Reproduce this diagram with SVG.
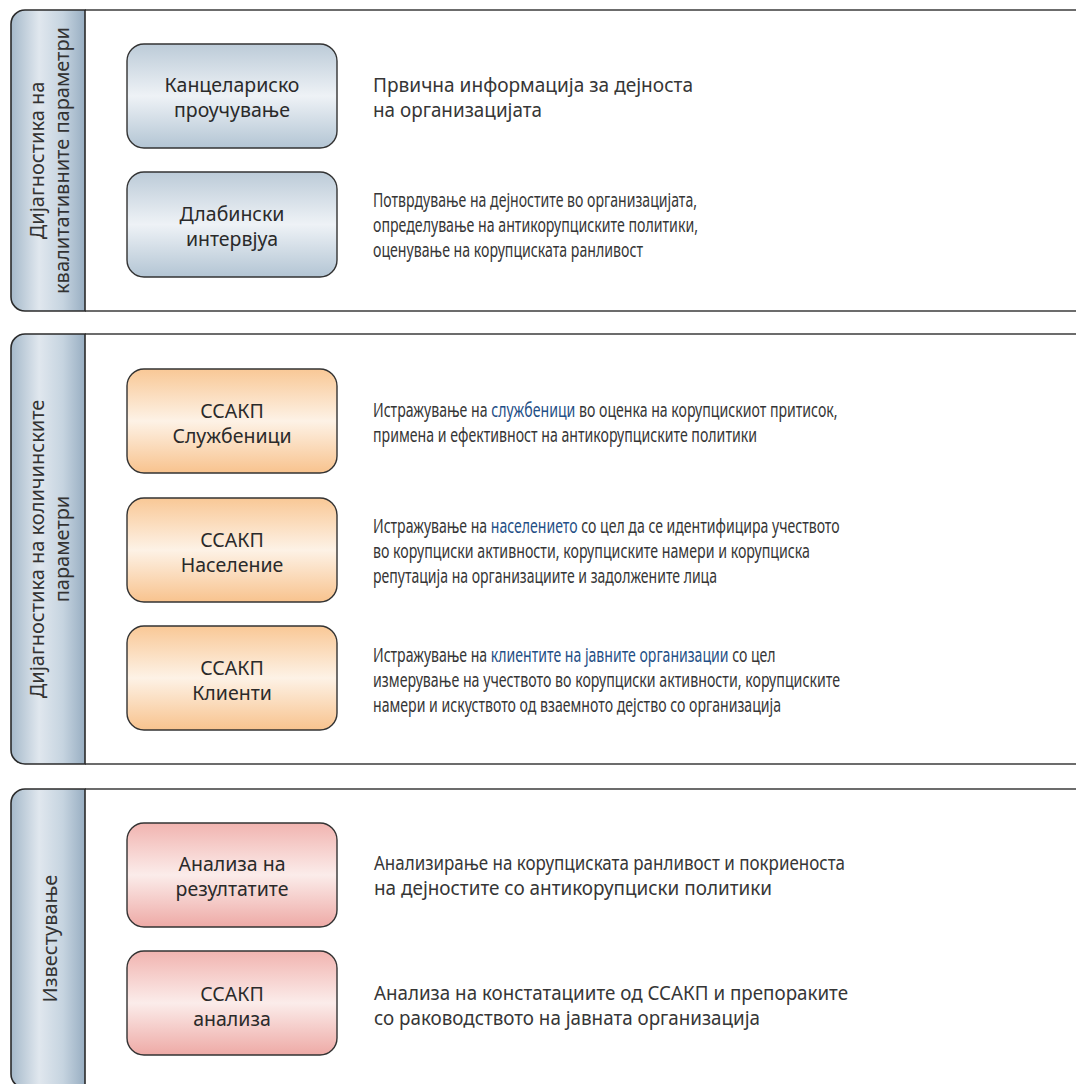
<svg xmlns="http://www.w3.org/2000/svg" width="1076" height="1084" viewBox="0 0 1076 1084">
<style>
  text { font-family: "Noto Sans", "Open Sans", "DejaVu Sans", sans-serif; fill: #363636; }
  .tabtxt { font-size: 20px; text-anchor: middle; fill: #333333; }
  .boxtxt { font-size: 19.5px; text-anchor: middle; fill: #2a2a2a; }
  .desc { font-size: 20px; }
  .hl { fill: #1f4f86; }
  .tab { fill: url(#gTab); stroke: #2b2b2b; stroke-width: 1.6; }
  .panel { fill: #ffffff; stroke: none; }
  .pline { fill: none; stroke: #3d3d3d; stroke-width: 1.6; }
  .box { stroke: #333333; stroke-width: 1.4; }
  .blue { fill: url(#gBlue); }
  .orange { fill: url(#gOrange); }
  .red { fill: url(#gRed); }
</style>
<defs>
  <linearGradient id="gTab" x1="0" y1="0" x2="1" y2="0">
    <stop offset="0" stop-color="#a5b9ca"/>
    <stop offset="0.38" stop-color="#e0e7ee"/>
    <stop offset="0.7" stop-color="#c6d4e0"/>
    <stop offset="1" stop-color="#98aec2"/>
  </linearGradient>
  <linearGradient id="gBlue" x1="0" y1="0" x2="0" y2="1">
    <stop offset="0" stop-color="#bccbd8"/>
    <stop offset="0.5" stop-color="#eef2f6"/>
    <stop offset="1" stop-color="#b3c5d4"/>
  </linearGradient>
  <linearGradient id="gOrange" x1="0" y1="0" x2="0" y2="1">
    <stop offset="0" stop-color="#f9c896"/>
    <stop offset="0.5" stop-color="#fdf2e6"/>
    <stop offset="1" stop-color="#f8c38e"/>
  </linearGradient>
  <linearGradient id="gRed" x1="0" y1="0" x2="0" y2="1">
    <stop offset="0" stop-color="#f1b4b0"/>
    <stop offset="0.5" stop-color="#fbecea"/>
    <stop offset="1" stop-color="#eeaaa6"/>
  </linearGradient>
</defs>
<rect x="0" y="0" width="1076" height="1084" fill="#ffffff"/>

<!-- Section 1 -->
<g id="section1">
  <rect class="panel" x="85" y="10" width="1000" height="301"/>
  <path class="pline" d="M1080,10 H85 M85,311 H1080"/>
  <path class="tab" d="M85,10 H25 A14,14 0 0 0 11,24 V297 A14,14 0 0 0 25,311 H85 Z"/>
  <text class="tabtxt" transform="translate(44,160.5) rotate(-90)"><tspan x="0" y="0">Дијагностика на</tspan><tspan x="0" y="25">квалитативните параметри</tspan></text>
</g>
<g id="node-kancelarisko">
  <rect class="box blue" x="127" y="44" width="210" height="104" rx="17"/>
  <text class="boxtxt"><tspan x="232" y="92">Канцелариско</tspan><tspan x="232" y="117">проучување</tspan></text>
  <text class="desc" x="373" y="92" textLength="320" lengthAdjust="spacingAndGlyphs">Првична информација за дејноста</text>
  <text class="desc" x="373" y="117" textLength="169" lengthAdjust="spacingAndGlyphs">на организацијата</text>
</g>
<g id="node-dlabinski">
  <rect class="box blue" x="127" y="172" width="210" height="105" rx="17"/>
  <text class="boxtxt"><tspan x="232" y="221">Длабински</tspan><tspan x="232" y="246">интервјуа</tspan></text>
  <text class="desc" x="373" y="207" textLength="324" lengthAdjust="spacingAndGlyphs">Потврдување на дејностите во организацијата,</text>
  <text class="desc" x="373" y="232" textLength="325" lengthAdjust="spacingAndGlyphs">определување на антикорупциските политики,</text>
  <text class="desc" x="373" y="257" textLength="270" lengthAdjust="spacingAndGlyphs">оценување на корупциската ранливост</text>
</g>

<!-- Section 2 -->
<g id="section2">
  <rect class="panel" x="85" y="334" width="1000" height="430"/>
  <path class="pline" d="M1080,334 H85 M85,764 H1080"/>
  <path class="tab" d="M85,334 H25 A14,14 0 0 0 11,348 V750 A14,14 0 0 0 25,764 H85 Z"/>
  <text class="tabtxt" transform="translate(44,549) rotate(-90)"><tspan x="0" y="0">Дијагностика на количинските</tspan><tspan x="0" y="25">параметри</tspan></text>
</g>
<g id="node-sluzbenici">
  <rect class="box orange" x="127" y="369" width="210" height="104" rx="17"/>
  <text class="boxtxt"><tspan x="232" y="418">ССАКП</tspan><tspan x="232" y="443">Службеници</tspan></text>
  <text class="desc" transform="translate(373,417) scale(0.706,1)">Истражување на <tspan class="hl">службеници</tspan> во оценка на корупцискиот притисок,</text>
  <text class="desc" x="373" y="442" textLength="384" lengthAdjust="spacingAndGlyphs">примена и ефективност на антикорупциските политики</text>
</g>
<g id="node-naselenie">
  <rect class="box orange" x="127" y="498" width="210" height="104" rx="17"/>
  <text class="boxtxt"><tspan x="232" y="547">ССАКП</tspan><tspan x="232" y="572">Население</tspan></text>
  <text class="desc" transform="translate(373,533) scale(0.704,1)">Истражување на <tspan class="hl">населението</tspan> со цел да се идентифицира учеството</text>
  <text class="desc" x="373" y="558" textLength="437" lengthAdjust="spacingAndGlyphs">во корупциски активности, корупциските намери и корупциска</text>
  <text class="desc" x="373" y="583" textLength="344" lengthAdjust="spacingAndGlyphs">репутација на организациите и задолжените лица</text>
</g>
<g id="node-klienti">
  <rect class="box orange" x="127" y="626" width="210" height="104" rx="17"/>
  <text class="boxtxt"><tspan x="232" y="675">ССАКП</tspan><tspan x="232" y="700">Клиенти</tspan></text>
  <text class="desc" transform="translate(373,662) scale(0.704,1)">Истражување на <tspan class="hl">клиентите на јавните организации</tspan> со цел</text>
  <text class="desc" x="373" y="687" textLength="467" lengthAdjust="spacingAndGlyphs">измерување на учеството во корупциски активности, корупциските</text>
  <text class="desc" x="373" y="712" textLength="408" lengthAdjust="spacingAndGlyphs">намери и искуството од взаемното дејство со организација</text>
</g>

<!-- Section 3 -->
<g id="section3">
  <rect class="panel" x="85" y="789" width="1000" height="299"/>
  <path class="pline" d="M1080,789 H85 M85,1088 H1080"/>
  <path class="tab" d="M85,789 H25 A14,14 0 0 0 11,803 V1074 A14,14 0 0 0 25,1088 H85 Z"/>
  <text class="tabtxt" transform="translate(56.5,938.5) rotate(-90)"><tspan x="0" y="0">Известување</tspan></text>
</g>
<g id="node-analiza-rezultati">
  <rect class="box red" x="127" y="823" width="210" height="104" rx="17"/>
  <text class="boxtxt"><tspan x="232" y="871">Анализа на</tspan><tspan x="232" y="896">резултатите</tspan></text>
  <text class="desc" x="374" y="870" textLength="471" lengthAdjust="spacingAndGlyphs">Анализирање на корупциската ранливост и покриеноста</text>
  <text class="desc" x="374" y="895" textLength="398" lengthAdjust="spacingAndGlyphs">на дејностите со антикорупциски политики</text>
</g>
<g id="node-ssakp-analiza">
  <rect class="box red" x="127" y="951" width="210" height="104" rx="17"/>
  <text class="boxtxt"><tspan x="232" y="1001">ССАКП</tspan><tspan x="232" y="1026">анализа</tspan></text>
  <text class="desc" x="374" y="1000" textLength="474" lengthAdjust="spacingAndGlyphs">Анализа на констатациите од ССАКП и препораките</text>
  <text class="desc" x="374" y="1025" textLength="386" lengthAdjust="spacingAndGlyphs">со раководството на јавната организација</text>
</g>

<g id="connectors"></g>
</svg>
